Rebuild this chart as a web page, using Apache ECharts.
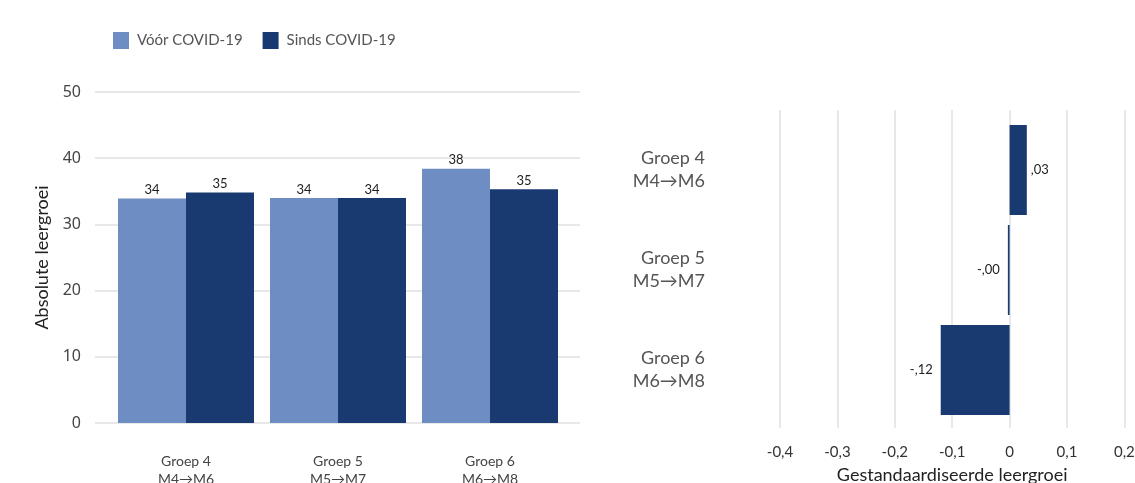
<!DOCTYPE html>
<html><head><meta charset="utf-8">
<script src="https://cdn.jsdelivr.net/npm/echarts@6/dist/echarts.min.js"></script>
<style>html,body{margin:0;padding:0;background:#fff}#c{width:1135px;height:483px}</style>
</head><body><div id="c"></div>
<script>
const categories = ['Groep 4\nM4→M6', 'Groep 5\nM5→M7', 'Groep 6\nM6→M8'];
const seriesNames = ['Vóór COVID-19', 'Sinds COVID-19'];
const voorValues = [33.9, 34.0, 38.4];
const sindsValues = [34.8, 34.0, 35.3];
const standardValues = [0.03, -0.003, -0.12];
const leftTicks = [0, 10, 20, 30, 40, 50];
const rightTicks = [-0.4, -0.3, -0.2, -0.1, 0, 0.1, 0.2];

const LIGHT = '#6e8ec3', DARK = '#193a70', GRIDC = '#e8e8e8';
const FONT = 'Lato';
const chart = echarts.init(document.getElementById('c'));
const fmtComma = v => String(Math.round(v * 10) / 10).replace('.', ',');
const fmtStd = v => (v < 0 ? '-' : '') + ',' + String(Math.round(Math.abs(v) * 100)).padStart(2, '0');

chart.setOption({
  animation: false,
  textStyle: { fontFamily: FONT },
  legend: {
    left: 108, top: 27, itemWidth: 16, itemHeight: 17, itemGap: 20,
    icon: 'rect', data: seriesNames,
    textStyle: { fontSize: 15, color: '#555', fontFamily: FONT, padding: [0, 0, 0, 3] }
  },
  grid: [
    { left: 95, width: 485, top: 92, height: 331, outerBoundsMode: 'none', containLabel: false },
    { left: 110, width: 456, top: 92, height: 331, outerBoundsMode: 'none', containLabel: false },
    { left: 780, width: 344.4, top: 110, height: 318, outerBoundsMode: 'none', containLabel: false },
    { left: 780, width: 344.4, top: 120, height: 300, outerBoundsMode: 'none', containLabel: false }
  ],
  xAxis: [
    { gridIndex: 0, type: 'value', show: false },
    { gridIndex: 1, type: 'category', data: categories,
      axisLine: { show: false }, axisTick: { show: false },
      axisLabel: { margin: 29, fontSize: 14, lineHeight: 18, color: '#444', fontFamily: FONT } },
    { gridIndex: 2, type: 'value', min: -0.4, max: 0.2, interval: 0.1,
      axisLine: { show: false }, axisTick: { show: false },
      splitLine: { show: true, lineStyle: { color: GRIDC, width: 2 } },
      axisLabel: { margin: 17, fontSize: 15, color: '#333', fontFamily: FONT, formatter: fmtComma, showMaxLabel: true, showMinLabel: true },
      name: 'Gestandaardiseerde leergroei', nameLocation: 'middle', nameGap: 38,
      nameTextStyle: { fontSize: 18, color: '#222', fontFamily: FONT } },
    { gridIndex: 3, type: 'value', min: -0.4, max: 0.2, show: false }
  ],
  yAxis: [
    { gridIndex: 0, type: 'value', min: 0, max: 50, interval: 10,
      axisLine: { show: false }, axisTick: { show: false },
      splitLine: { lineStyle: { color: GRIDC, width: 2 } },
      axisLabel: { margin: 14, fontSize: 16, color: '#444', fontFamily: 'Noto Sans' },
      name: 'Absolute leergroei', nameLocation: 'middle', nameGap: 44,
      nameTextStyle: { fontSize: 18, color: '#222', fontFamily: FONT } },
    { gridIndex: 1, type: 'value', min: 0, max: 50, show: false },
    { gridIndex: 2, type: 'category', data: categories, show: false },
    { gridIndex: 3, type: 'category', data: categories, inverse: true,
      axisLine: { show: false }, axisTick: { show: false },
      axisLabel: { margin: 75, fontSize: 18, lineHeight: 23, color: '#555', fontFamily: FONT, align: 'right' } }
  ],
  series: [
    { name: seriesNames[0], type: 'bar', xAxisIndex: 1, yAxisIndex: 1, data: voorValues,
      barWidth: 68, barGap: '0%', itemStyle: { color: LIGHT },
      label: { show: true, position: 'top', distance: 2, fontSize: 13, color: '#222', fontFamily: FONT, formatter: p => Math.round(p.value) } },
    { name: seriesNames[1], type: 'bar', xAxisIndex: 1, yAxisIndex: 1, data: sindsValues,
      barWidth: 68, barGap: '0%', itemStyle: { color: DARK },
      label: { show: true, position: 'top', distance: 2, fontSize: 13, color: '#222', fontFamily: FONT, formatter: p => Math.round(p.value) } },
    { type: 'bar', xAxisIndex: 3, yAxisIndex: 3, barWidth: 90,
      itemStyle: { color: DARK },
      data: standardValues.map(v => ({ value: v,
        label: { show: true, position: v >= 0 ? 'right' : 'left', distance: v >= 0 ? 4 : 8,
          fontSize: 13, color: '#222', fontFamily: FONT, formatter: p => fmtStd(p.value) } }))
    }
  ]
});
</script></body></html>
